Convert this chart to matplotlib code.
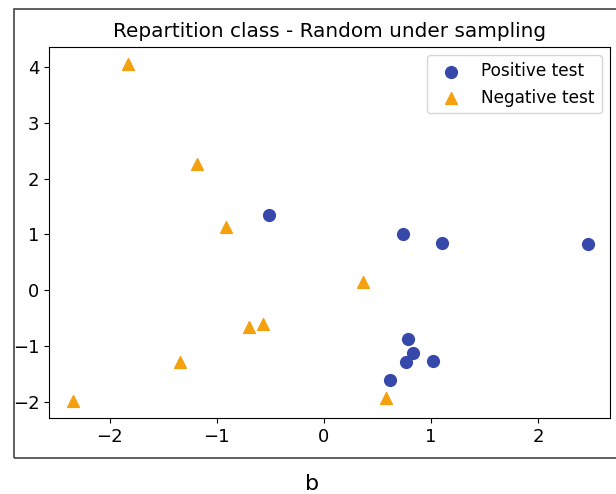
import matplotlib.pyplot as plt
from matplotlib.patches import Rectangle

# Points
pos_x = [-0.51, 0.74, 1.10, 2.47, 0.79, 0.83, 0.77, 1.02, 0.62]
pos_y = [1.35, 1.01, 0.85, 0.82, -0.87, -1.13, -1.28, -1.26, -1.61]
neg_x = [-1.83, -1.18, -0.91, 0.37, -0.70, -0.57, -1.34, -2.34, 0.58]
neg_y = [4.05, 2.26, 1.13, 0.14, -0.66, -0.61, -1.29, -1.99, -1.93]

W, H = 616, 494
fig = plt.figure(figsize=(W / 100, H / 100), dpi=100)

# outer frame around the plot panel (runs off the right edge)
fig.patches.append(Rectangle((14 / W, 1 - 458 / H), 620 / W, 449 / H,
                             transform=fig.transFigure, fill=False,
                             edgecolor='#444444', linewidth=1.2))

ax = fig.add_axes([49 / W, 1 - 418 / H, (610 - 49) / W, (418 - 47) / H])
ax.scatter(pos_x, pos_y, s=72, color='#3748ab', marker='o', label='Positive test')
ax.scatter(neg_x, neg_y, s=72, color='#f5a00f', marker='^', label='Negative test')
ax.set_xlim(-2.566, 2.672)
ax.set_ylim(-2.29, 4.36)
ax.set_xticks([-2, -1, 0, 1, 2])
ax.set_yticks([-2, -1, 0, 1, 2, 3, 4])
ax.tick_params(labelsize=13)
ax.set_title('Repartition class - Random under sampling', fontsize=14.4, pad=7)
ax.legend(loc='upper right', fontsize=12.2)

fig.text(312 / W, 1 - 484 / H, 'b', ha='center', va='center', fontsize=16)

fig.savefig('out.png', dpi=100)
